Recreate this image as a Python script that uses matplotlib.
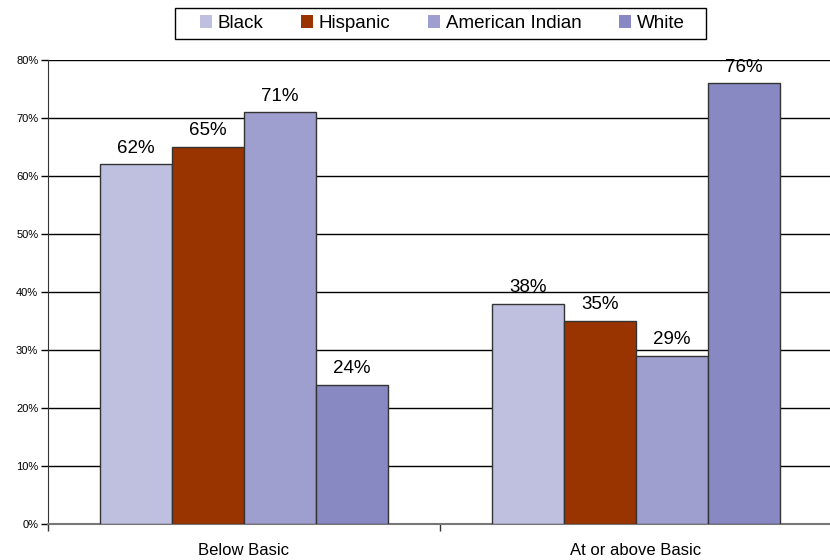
import matplotlib
matplotlib.use("Agg")
import matplotlib.pyplot as plt
from matplotlib.patches import Rectangle
import numpy as np

categories = ["Below Basic", "At or above Basic"]
groups = ["Black", "Hispanic", "American Indian", "White"]
values = {
    "Black": [62, 38],
    "Hispanic": [65, 35],
    "American Indian": [71, 29],
    "White": [24, 76],
}
colors = ["#BFBFDF", "#993300", "#9F9FCF", "#8888C2"]
y_ticks = [0, 10, 20, 30, 40, 50, 60, 70, 80]

plt.rcParams["font.family"] = ["Liberation Sans", "DejaVu Sans"]

fig = plt.figure(figsize=(8.3, 5.6), dpi=100)
ax = fig.add_axes([48 / 830, 36 / 560, 784 / 830, 464 / 560])

x = np.arange(len(categories))
width = 0.184
for i, g in enumerate(groups):
    pos = x + (i - 1.5) * width
    bars = ax.bar(pos, values[g], width, color=colors[i], edgecolor="#333333",
                  linewidth=1, label=g, zorder=3)
    for b, v in zip(bars, values[g]):
        ax.text(b.get_x() + b.get_width() / 2, v + 1.3, f"{v}%", ha="center",
                va="bottom", fontsize=13.5, zorder=4)

ax.set_xlim(-0.5, 1.5)
ax.set_ylim(0, 80)
ax.set_yticks(y_ticks)
ax.set_yticklabels([f"{t}%" for t in y_ticks], fontsize=8)
ax.yaxis.grid(True, color="black", linewidth=1, zorder=0)
ax.tick_params(axis="y", length=5, width=1, pad=2)

ax.set_xticks([-0.5, 0.5, 1.5])
ax.set_xticklabels([])
ax.tick_params(axis="x", length=5, width=1, color="#333333")
for xi, c in zip(x, categories):
    ax.text(xi, -4.6, c, ha="center", va="center", fontsize=12)

for s in ["top", "right"]:
    ax.spines[s].set_visible(False)
ax.spines["left"].set_color("#333333")
ax.spines["bottom"].set_color("#777777")
ax.spines["bottom"].set_linewidth(1.5)

# legend: entries without frame, box drawn separately
leg = fig.legend(loc="center", bbox_to_anchor=(442 / 830, 1 - 23.5 / 560), ncol=4,
                 fontsize=13.5, frameon=False, handlelength=0.65,
                 handleheight=0.65, handletextpad=0.3, columnspacing=2.0,
                 borderpad=0.0)
for h in leg.legend_handles:
    h.set_edgecolor("none")
fig.patches.append(Rectangle((175 / 830, 1 - 39 / 560), 531 / 830, 31 / 560,
                             transform=fig.transFigure, fill=False,
                             edgecolor="black", linewidth=1))

fig.savefig("out.png", dpi=100)
